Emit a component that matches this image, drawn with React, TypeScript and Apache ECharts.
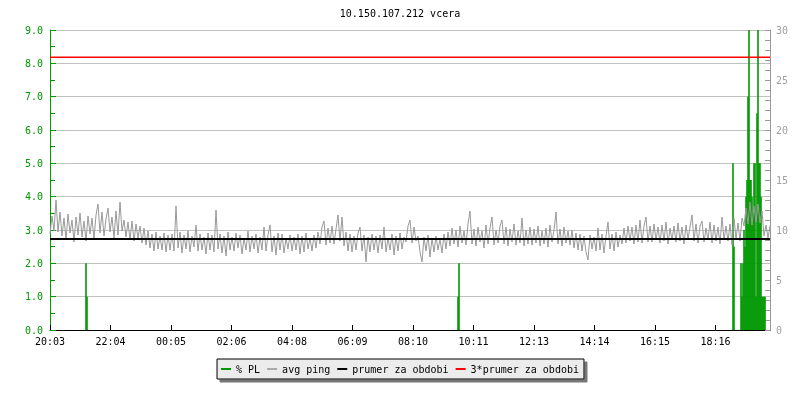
import React, { useEffect, useRef } from "react";
import * as echarts from "echarts";

const titleText = "10.150.107.212 vcera";
const timeLabels = ["20:03", "22:04", "00:05", "02:06", "04:08", "06:09", "08:10", "10:11", "12:13", "14:14", "16:15", "18:16"];
const labelStepMin = 121; // minutes between time labels
const spanMin = 1440; // minutes shown
const pingStepMin = 4; // minutes between avg ping samples

// avg ping [ms], one sample every 4 minutes from 20:03
const avgPing = [
  9.6, 11.4, 9.9, 13.0, 9.8, 11.8, 9.4, 11.2, 9.0, 11.6, 9.7, 11.0, 8.8, 11.3, 9.5, 11.7, 9.3, 10.9, 8.9, 11.4,
  9.6, 11.2, 9.1, 11.5, 12.6, 9.7, 11.8, 9.4, 11.1, 12.2, 9.8, 11.3, 9.2, 11.9, 9.5, 12.8, 9.9, 11.0, 9.3, 10.8,
  9.0, 10.9, 8.9, 10.6, 9.2, 10.4, 8.7, 10.2, 8.5, 9.9, 8.2, 9.6, 7.9, 9.8, 8.1, 9.4, 8.0, 9.7, 7.8, 9.5,
  8.0, 9.6, 7.9, 12.4, 8.2, 9.8, 7.7, 9.5, 8.1, 9.9, 7.8, 9.4, 8.3, 10.5, 7.9, 9.6, 8.0, 9.3, 7.6, 9.7,
  8.0, 9.5, 7.8, 12.0, 8.1, 9.6, 7.7, 9.4, 7.4, 9.8, 8.0, 9.3, 7.9, 9.7, 8.2, 9.5, 7.6, 9.2, 8.0, 9.9,
  7.8, 9.4, 8.1, 9.6, 7.7, 9.3, 8.0, 10.3, 7.9, 9.5, 10.5, 7.8, 9.4, 7.5, 9.7, 8.0, 9.6, 7.7, 9.2, 8.1,
  9.5, 7.9, 9.3, 8.0, 9.6, 7.6, 9.4, 7.8, 9.7, 8.1, 9.2, 7.9, 9.5, 8.2, 9.8, 8.6, 10.3, 10.9, 8.5, 10.2,
  8.7, 10.4, 8.6, 10.1, 11.5, 8.9, 11.3, 8.4, 9.8, 7.9, 9.6, 7.8, 9.4, 8.0, 9.7, 10.3, 7.9, 9.5, 6.8, 9.3,
  7.8, 9.6, 8.0, 9.4, 7.7, 9.5, 8.1, 10.3, 7.8, 9.2, 8.0, 9.6, 7.5, 9.4, 7.9, 9.7, 8.1, 9.3, 8.8, 10.4,
  11.0, 8.7, 10.3, 8.9, 9.4, 7.8, 6.8, 9.3, 7.9, 9.5, 7.3, 9.2, 7.8, 9.4, 8.0, 9.1, 7.7, 9.6, 8.1, 9.8,
  8.4, 10.2, 8.6, 10.0, 8.3, 10.4, 8.7, 9.9, 8.5, 10.6, 11.9, 8.6, 10.1, 8.4, 10.3, 8.8, 9.9, 8.2, 10.5, 8.6,
  10.2, 11.3, 8.5, 10.0, 8.7, 10.4, 11.0, 8.6, 10.3, 8.4, 10.1, 8.8, 10.6, 8.5, 9.9, 8.7, 11.2, 8.4, 10.0, 8.6,
  10.3, 8.5, 10.1, 8.7, 10.4, 8.4, 9.9, 8.6, 10.2, 8.3, 10.5, 8.8, 10.0, 11.8, 8.6, 10.1, 8.4, 10.3, 8.7, 9.9,
  8.5, 10.0, 8.2, 9.7, 8.0, 9.6, 7.9, 9.4, 7.8, 7.0, 9.5, 8.1, 9.3, 7.9, 10.2, 8.0, 9.6, 7.7, 9.4, 10.8,
  8.1, 9.6, 7.9, 9.8, 8.3, 9.5, 8.6, 10.2, 8.7, 10.4, 8.9, 10.3, 8.6, 10.5, 8.8, 11.0, 8.7, 10.4, 11.3, 8.8,
  10.4, 8.8, 10.6, 9.0, 10.3, 8.7, 10.5, 8.9, 10.8, 8.6, 10.2, 9.0, 10.4, 8.8, 10.7, 8.9, 10.3, 8.6, 10.5, 9.1,
  10.3, 11.5, 8.9, 10.6, 8.7, 10.4, 10.9, 8.8, 10.2, 9.0, 10.8, 8.7, 10.5, 8.9, 10.3, 8.6, 11.3, 9.0, 10.4, 8.9,
  10.6, 8.5, 11.2, 9.1, 10.7, 8.9, 11.2, 10.4, 12.2, 10.6, 12.8, 10.5, 12.4, 10.8, 12.6, 10.7, 11.9, 9.4, 10.5, 9.2,
  10.4,
];

// packet loss [%], only nonzero samples: minute offset from 20:03 and value
const plMinutes = [72, 74, 816, 818, 1366, 1368, 1382, 1384, 1386, 1388, 1390, 1392, 1394, 1396, 1398, 1400, 1402, 1404, 1406, 1408, 1410, 1412, 1414, 1416, 1418, 1420, 1422, 1424, 1426, 1428, 1430];
const plValues = [2, 1, 1, 2, 5, 2.5, 2, 1, 2, 3, 2.5, 4, 4.5, 7, 9, 4.5, 4.5, 4, 3.5, 5, 5, 1, 6.5, 9, 5, 5, 4, 1, 1, 1, 1];

const prumer = 9.09; // average ping for the period [ms]

const legendNames = ["% PL", "avg ping", "prumer za obdobi", "3*prumer za obdobi"];
const colors = { pl: "#009900", ping: "#999999", avg: "#000000", avg3: "#ff0000" };
const mono = "DejaVu Sans Mono";

export default function App() {
  const ref = useRef<HTMLDivElement>(null);
  useEffect(() => {
    if (!ref.current) return;
    const chart = echarts.init(ref.current, null, { renderer: "svg" });
    const pingData = avgPing.map((v, i) => [i * pingStepMin, v]);
    const plData = plMinutes.map((m, i) => [m, plValues[i]]);
    chart.setOption({
      animation: false,
      title: {
        text: titleText,
        left: "center",
        top: 3,
        textStyle: { fontFamily: mono, fontSize: 10, fontWeight: "normal", color: "#000" },
      },
      legend: {
        data: legendNames.map((n) => ({ name: n, icon: "rect" })),
        left: "center",
        top: 359,
        padding: [5, 5, 5, 4],
        itemWidth: 10,
        itemHeight: 2,
        itemGap: 7,
        backgroundColor: "#ececec",
        borderColor: "#000",
        borderWidth: 1,
        shadowColor: "#777",
        shadowOffsetX: 3,
        shadowOffsetY: 3,
        shadowBlur: 0,
        textStyle: { fontFamily: mono, fontSize: 10, color: "#000" },
      },
      grid: { left: 50, right: 30, top: 30, bottom: 70, containLabel: false },
      xAxis: {
        type: "value",
        min: 0,
        max: spanMin,
        interval: labelStepMin,
        axisLine: { show: true, lineStyle: { color: "#000", width: 1 } },
        axisTick: { show: true, inside: true, length: 5, lineStyle: { color: "#000" } },
        axisLabel: {
          margin: 6,
          fontFamily: mono,
          fontSize: 10,
          color: "#000",
          showMaxLabel: false,
          formatter: (v: number) => {
            const k = Math.round(v / labelStepMin);
            if (k < timeLabels.length && Math.abs(v - k * labelStepMin) < 0.5) return timeLabels[k];
            return "";
          },
        },
        splitLine: { show: false },
      },
      yAxis: [
        {
          type: "value",
          min: 0,
          max: 9,
          interval: 1,
          position: "left",
          axisLine: { show: true, lineStyle: { color: colors.pl, width: 1 } },
          axisTick: { show: true, inside: true, length: 6, lineStyle: { color: colors.pl } },
          minorTick: { show: true, splitNumber: 2, length: 5, lineStyle: { color: colors.pl } },
          axisLabel: {
            margin: 7,
            fontFamily: mono,
            fontSize: 10,
            color: colors.pl,
            formatter: (v: number) => v.toFixed(1),
          },
          splitLine: { show: true, lineStyle: { color: "#c0c0c0", width: 1 } },
        },
        {
          type: "value",
          min: 0,
          max: 30,
          interval: 5,
          position: "right",
          axisLine: { show: true, lineStyle: { color: "#999", width: 1 } },
          axisTick: { show: true, inside: true, length: 5, lineStyle: { color: "#999" } },
          minorTick: { show: true, splitNumber: 5, length: 5, lineStyle: { color: "#999" } },
          axisLabel: { margin: 6, fontFamily: mono, fontSize: 10, color: "#a0a0a0" },
          splitLine: { show: false },
        },
      ],
      series: [
        {
          name: legendNames[0],
          type: "bar",
          xAxisIndex: 0,
          yAxisIndex: 0,
          barWidth: 1.6,
          data: plData,
          itemStyle: { color: colors.pl },
        },
        {
          name: legendNames[1],
          type: "line",
          yAxisIndex: 1,
          data: pingData,
          symbol: "none",
          lineStyle: { color: colors.ping, width: 1 },
          itemStyle: { color: "#aaaaaa" },
        },
        {
          name: legendNames[2],
          type: "line",
          yAxisIndex: 1,
          data: [[0, prumer], [spanMin, prumer]],
          symbol: "none",
          lineStyle: { color: colors.avg, width: 2 },
          itemStyle: { color: colors.avg },
        },
        {
          name: legendNames[3],
          type: "line",
          yAxisIndex: 1,
          data: [[0, prumer * 3], [spanMin, prumer * 3]],
          symbol: "none",
          lineStyle: { color: colors.avg3, width: 1.5 },
          itemStyle: { color: colors.avg3 },
        },
      ],
    });
    return () => chart.dispose();
  }, []);
  return <div ref={ref} style={{ position: "fixed", left: 0, top: 0, width: 800, height: 400 }} />;
}
